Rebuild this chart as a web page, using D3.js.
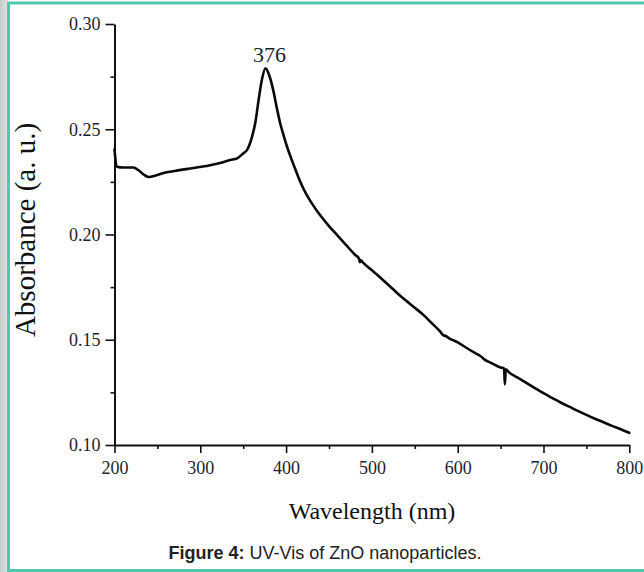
<!DOCTYPE html>
<html>
<head>
<meta charset="utf-8">
<script src="https://cdn.jsdelivr.net/npm/d3@7/dist/d3.min.js"></script>
<style>
  html, body { margin: 0; padding: 0; background: #fff; }
  svg { display: block; }
</style>
</head>
<body>
<svg id="chart" width="644" height="572"></svg>
<script>
// ---- data ----
const wavelength = [200, 201, 203, 210, 222, 228, 234, 240, 248, 257, 270, 292, 310, 323, 335, 343, 350, 355, 360, 364, 368, 372, 376, 380, 385, 389, 393, 397, 401, 405, 410, 416, 423, 430, 440, 450, 460, 470, 480, 485, 486, 487, 490, 500, 510, 520, 530, 540, 550, 560, 570, 580, 583, 586, 590, 600, 610, 620, 626, 628, 630, 640, 650, 654, 655, 656, 660, 670, 680, 690, 700, 710, 720, 730, 740, 750, 760, 770, 780, 790, 800];
const absorbance = [0.2405, 0.2360, 0.2322, 0.2318, 0.2318, 0.2305, 0.2285, 0.2273, 0.2280, 0.2292, 0.2302, 0.2316, 0.2328, 0.2340, 0.2354, 0.2362, 0.2385, 0.2405, 0.2460, 0.2528, 0.2640, 0.2740, 0.2790, 0.2760, 0.2686, 0.2605, 0.2530, 0.2472, 0.2418, 0.2372, 0.2318, 0.2255, 0.2195, 0.2148, 0.2090, 0.2040, 0.1995, 0.1950, 0.1905, 0.1885, 0.1868, 0.1878, 0.1865, 0.1830, 0.1795, 0.1758, 0.1720, 0.1685, 0.1652, 0.1618, 0.1578, 0.1537, 0.1522, 0.1518, 0.1507, 0.1488, 0.1462, 0.1438, 0.1424, 0.1418, 0.1410, 0.1388, 0.1368, 0.1364, 0.1288, 0.1360, 0.1345, 0.1320, 0.1295, 0.1270, 0.1246, 0.1224, 0.1202, 0.1182, 0.1162, 0.1143, 0.1125, 0.1108, 0.1091, 0.1075, 0.1058];
const xTicks = [200, 300, 400, 500, 600, 700, 800];
const xMinorTicks = [250, 350, 450, 550, 650, 750];
const yTicks = [0.10, 0.15, 0.20, 0.25, 0.30];
const yMinorTicks = [0.125, 0.175, 0.225, 0.275];
const peakLabel = "376";
const peakWavelength = 376;
const peakValue = 0.2790;
const xTitle = "Wavelength (nm)";
const yTitle = "Absorbance (a. u.)";
const captionBold = "Figure 4:";
const captionText = " UV-Vis of ZnO nanoparticles.";

// ---- drawing ----
const svg = d3.select("#chart");
const W = 644, H = 572;
const serif = "'Liberation Serif', 'Times New Roman', serif";
const sans = "'Liberation Sans', Arial, sans-serif";

// page frame
const defs = svg.append("defs");
const grad = defs.append("linearGradient").attr("id", "side").attr("x1", 0).attr("x2", 1).attr("y1", 0).attr("y2", 0);
grad.append("stop").attr("offset", "0%").attr("stop-color", "#c9c9c9");
grad.append("stop").attr("offset", "100%").attr("stop-color", "#e4e4e4");
svg.append("rect").attr("x", 0).attr("y", 0).attr("width", 8).attr("height", H).attr("fill", "url(#side)");
svg.append("rect").attr("x", 8.5).attr("y", 3).attr("width", W).attr("height", H - 4.5)
  .attr("fill", "#fff").attr("stroke", "#4ec9ad").attr("stroke-width", 3);

const x = d3.scaleLinear().domain([200, 800]).range([114.5, 629.3]);
const y = d3.scaleLinear().domain([0.10, 0.30]).range([445, 24]);

const g = svg.append("g");

// minor ticks
g.append("g").attr("transform", "translate(0,445)")
  .call(d3.axisBottom(x).tickValues(xMinorTicks).tickSize(4).tickFormat(""))
  .call(a => a.select(".domain").remove())
  .call(a => a.selectAll("line").attr("stroke", "#111").attr("stroke-width", 1.6));
g.append("g").attr("transform", "translate(114.5,0)")
  .call(d3.axisLeft(y).tickValues(yMinorTicks).tickSize(4).tickFormat(""))
  .call(a => a.select(".domain").remove())
  .call(a => a.selectAll("line").attr("stroke", "#111").attr("stroke-width", 1.6));

// major axes
const xAxis = g.append("g").attr("transform", "translate(0,445)")
  .call(d3.axisBottom(x).tickValues(xTicks).tickSize(8).tickSizeOuter(0).tickPadding(8).tickFormat(d3.format("d")));
const yAxis = g.append("g").attr("transform", "translate(114.5,0)")
  .call(d3.axisLeft(y).tickValues(yTicks).tickSize(9).tickSizeOuter(0).tickPadding(5).tickFormat(d3.format(".2f")));
[xAxis, yAxis].forEach(a => {
  a.select(".domain").attr("stroke", "#111").attr("stroke-width", 2);
  a.selectAll(".tick line").attr("stroke", "#111").attr("stroke-width", 1.6);
  a.selectAll("text").attr("fill", "#1e1e2e").style("font-family", serif).style("font-size", "18px");
});

// curve
const pts = wavelength.map((w, i) => [w, absorbance[i]]);
g.append("path").datum(pts)
  .attr("fill", "none").attr("stroke", "#0a0a0a").attr("stroke-width", 2.6)
  .attr("stroke-linejoin", "round").attr("stroke-linecap", "round")
  .attr("d", d3.line().x(d => x(d[0])).y(d => y(d[1])).curve(d3.curveMonotoneX));

// peak label
g.append("text").attr("x", x(peakWavelength) + 4).attr("y", y(peakValue) - 6)
  .attr("text-anchor", "middle").attr("fill", "#1e1e2e")
  .style("font-family", serif).style("font-size", "22px").text(peakLabel);

// axis titles
svg.append("text").attr("x", 372).attr("y", 519).attr("text-anchor", "middle")
  .attr("fill", "#111").style("font-family", serif).style("font-size", "24px").text(xTitle);
svg.append("text").attr("transform", "translate(35,230) rotate(-90)").attr("text-anchor", "middle")
  .attr("fill", "#111").style("font-family", serif).style("font-size", "29px").text(yTitle);

// caption
const cap = svg.append("text").attr("x", 325).attr("y", 559).attr("text-anchor", "middle")
  .attr("fill", "#222").style("font-family", sans).style("font-size", "18px");
cap.append("tspan").style("font-weight", "bold").text(captionBold);
cap.append("tspan").text(captionText);
</script>
</body>
</html>
